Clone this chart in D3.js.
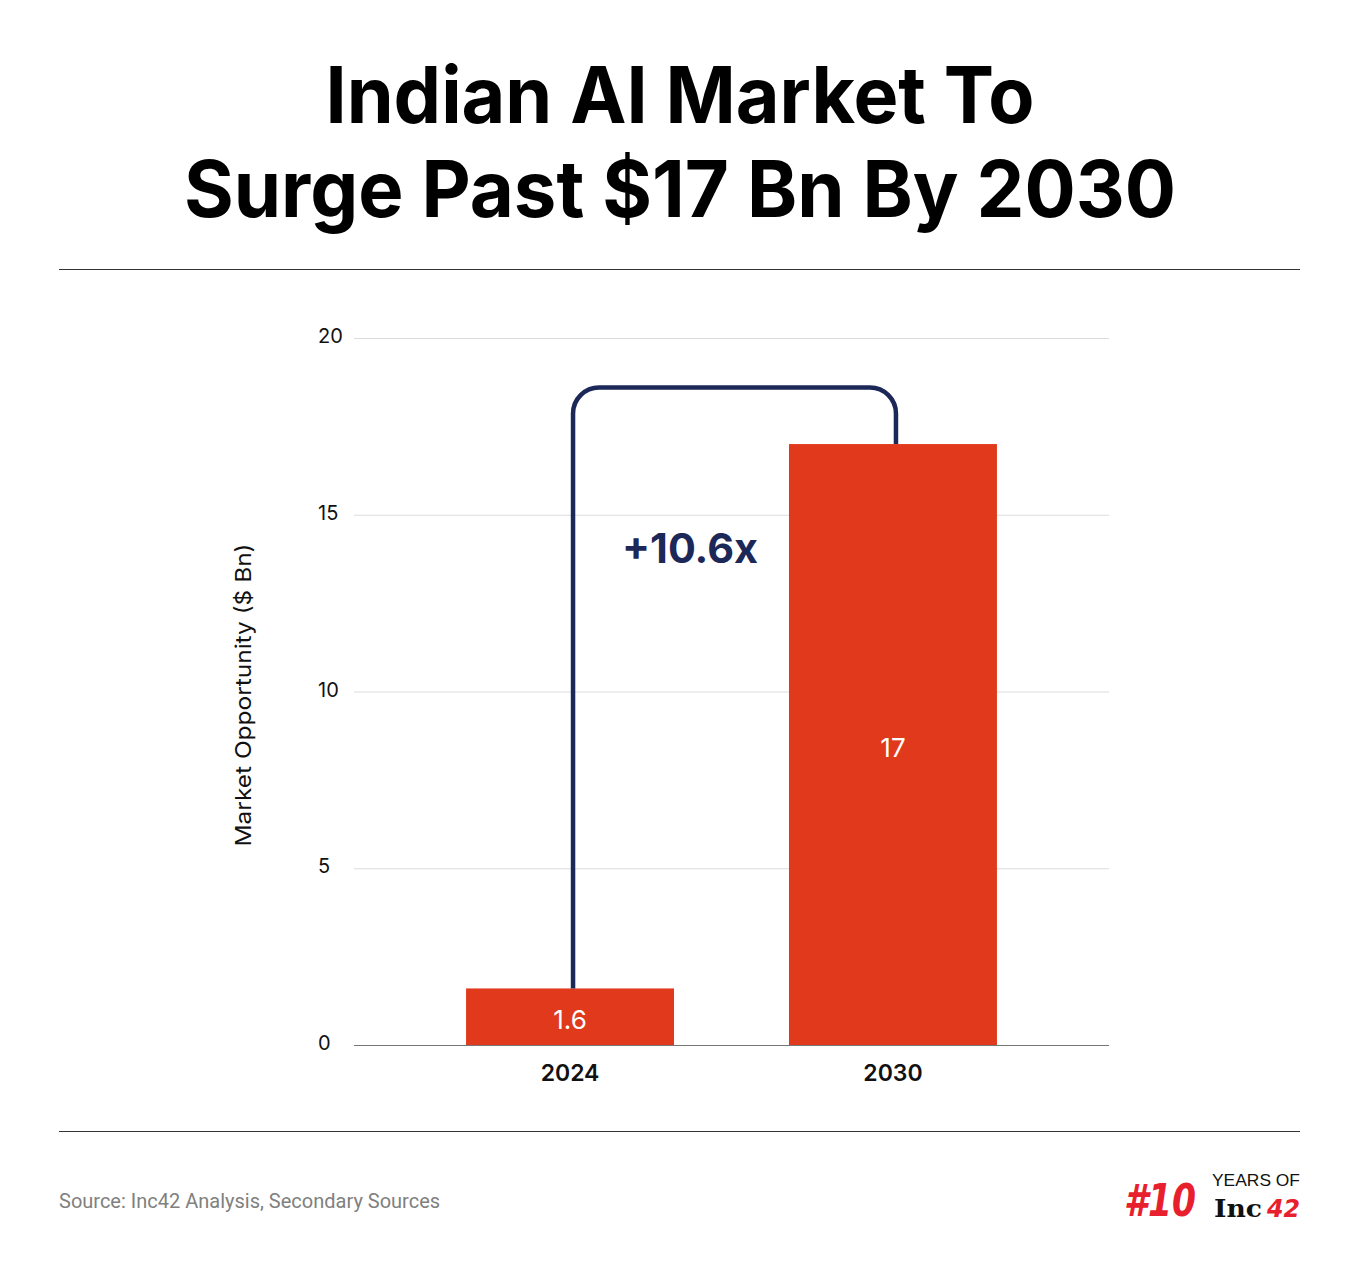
<!DOCTYPE html>
<html><head><meta charset="utf-8">
<script src="https://cdn.jsdelivr.net/npm/d3@7/dist/d3.min.js"></script>
<style>body{margin:0;background:#fff;} svg{display:block;}</style>
</head><body>
<script>
const categories = ["2024", "2030"];
const values = [1.6, 17];
const valueLabels = ["1.6", "17"];
const yTicks = [0, 5, 10, 15, 20];
const growthLabel = "+10.6x";
const titleLines = ["Indian AI Market To", "Surge Past $17 Bn By 2030"];
const yTitle = "Market Opportunity ($ Bn)";
const sourceText = "Source: Inc42 Analysis, Secondary Sources";
const bracketTop = 18.6;

const W = 1360, H = 1267;
const svg = d3.select("body").append("svg").attr("width", W).attr("height", H);
svg.append("rect").attr("width", W).attr("height", H).attr("fill", "#fff");

const titleFont = "Inter, 'Open Sans', sans-serif";
const bodyFont = "Inter, 'Noto Sans', sans-serif";

// Title
const titleWidths = [709, 992];
svg.append("g").selectAll("text").data(titleLines).join("text")
  .attr("x", 680).attr("y", (d, i) => 123 + i * 94)
  .attr("text-anchor", "middle")
  .attr("font-family", titleFont).attr("font-weight", 700)
  .attr("font-size", 78).attr("fill", "#000")
  .attr("textLength", (d, i) => titleWidths[i]).attr("lengthAdjust", "spacingAndGlyphs")
  .text(d => d);

// rules
[269, 1131].forEach(y => svg.append("line").attr("x1", 59).attr("x2", 1300)
  .attr("y1", y + 0.5).attr("y2", y + 0.5).attr("stroke", "#333").attr("stroke-width", 1.2));

const x = d3.scaleBand().domain(categories).range([354, 1109]).paddingInner(0.356).paddingOuter(0.347);
const y = d3.scaleLinear().domain([0, 20]).range([1045, 338]);

// grid
const grid = svg.append("g");
grid.selectAll("line").data(yTicks).join("line")
  .attr("x1", 354).attr("x2", 1109)
  .attr("y1", d => y(d) + 0.5).attr("y2", d => y(d) + 0.5)
  .attr("stroke", d => d === 0 ? "#777" : "#dcdcdc").attr("stroke-width", 1);
grid.selectAll("text").data(yTicks).join("text")
  .attr("x", 318).attr("y", d => y(d) - 2).attr("dy", "0.35em")
  .attr("font-family", bodyFont).attr("font-size", 20).attr("fill", "#111")
  .text(d => d);

// y title
svg.append("text").attr("transform", `translate(251,${695}) rotate(-90)`)
  .attr("text-anchor", "middle").attr("font-family", bodyFont).attr("font-size", 22).attr("fill", "#111")
  .attr("textLength", 303).attr("lengthAdjust", "spacingAndGlyphs")
  .text(yTitle);

// bars
const barColor = "#E1391B";
svg.append("g").selectAll("rect").data(values).join("rect")
  .attr("x", (d, i) => x(categories[i])).attr("width", x.bandwidth())
  .attr("y", d => y(d)).attr("height", d => y(0) - y(d)).attr("fill", barColor);

svg.append("g").selectAll("text").data(values).join("text")
  .attr("x", (d, i) => x(categories[i]) + x.bandwidth() / 2)
  .attr("y", d => (y(d) + y(0)) / 2 + 3).attr("dy", "0.35em")
  .attr("text-anchor", "middle").attr("font-family", bodyFont).attr("font-size", 26).attr("fill", "#fff")
  .text((d, i) => valueLabels[i]);

// x labels
svg.append("g").selectAll("text").data(categories).join("text")
  .attr("x", d => x(d) + x.bandwidth() / 2).attr("y", 1073).attr("dy", "0.35em")
  .attr("text-anchor", "middle").attr("font-family", bodyFont).attr("font-weight", 600)
  .attr("font-size", 23).attr("fill", "#111").text(d => d);

// bracket
const xl = x(categories[0]) + x.bandwidth() / 2 + 3;
const xr = x(categories[1]) + x.bandwidth() / 2 + 3;
const yt = y(bracketTop), r = 26;
const p = d3.path();
p.moveTo(xl, y(values[0]));
p.lineTo(xl, yt + r);
p.arcTo(xl, yt, xl + r, yt, r);
p.lineTo(xr - r, yt);
p.arcTo(xr, yt, xr, yt + r, r);
p.lineTo(xr, y(values[1]));
svg.append("path").attr("d", p.toString()).attr("fill", "none")
  .attr("stroke", "#1C2857").attr("stroke-width", 4.5);

svg.append("text").attr("x", 690).attr("y", 549).attr("dy", "0.35em").attr("text-anchor", "middle")
  .attr("font-family", bodyFont).attr("font-weight", 700).attr("font-size", 41).attr("fill", "#1C2857")
  .attr("textLength", 136).attr("lengthAdjust", "spacingAndGlyphs")
  .text(growthLabel);

// source
svg.append("text").attr("x", 59).attr("y", 1208)
  .attr("font-family", "Roboto, Inter, sans-serif").attr("font-size", 20).attr("fill", "#808080")
  .text(sourceText);

// logo
const logo = svg.append("g");
logo.append("text").attr("x", 1124).attr("y", 1216)
  .attr("font-family", "'DejaVu Sans', sans-serif").attr("font-weight", 700).attr("font-style", "italic")
  .attr("font-size", 44).attr("fill", "#E8202E")
  .attr("textLength", 72).attr("lengthAdjust", "spacingAndGlyphs").text("#10");
logo.append("text").attr("x", 1212).attr("y", 1186)
  .attr("font-family", "'Liberation Sans', sans-serif").attr("font-size", 17)
  .attr("textLength", 88).attr("lengthAdjust", "spacingAndGlyphs")
  .attr("fill", "#111").text("YEARS OF");
logo.append("text").attr("x", 1214).attr("y", 1217)
  .attr("font-family", "'DejaVu Serif', serif").attr("font-weight", 700)
  .attr("font-size", 25).attr("fill", "#111")
  .attr("textLength", 48).attr("lengthAdjust", "spacingAndGlyphs").text("Inc");
logo.append("text").attr("x", 1267).attr("y", 1217)
  .attr("font-family", "'DejaVu Sans', sans-serif").attr("font-weight", 700).attr("font-style", "italic")
  .attr("font-size", 25).attr("fill", "#E8202E")
  .attr("textLength", 33).attr("lengthAdjust", "spacingAndGlyphs").text("42");
</script>
</body></html>
